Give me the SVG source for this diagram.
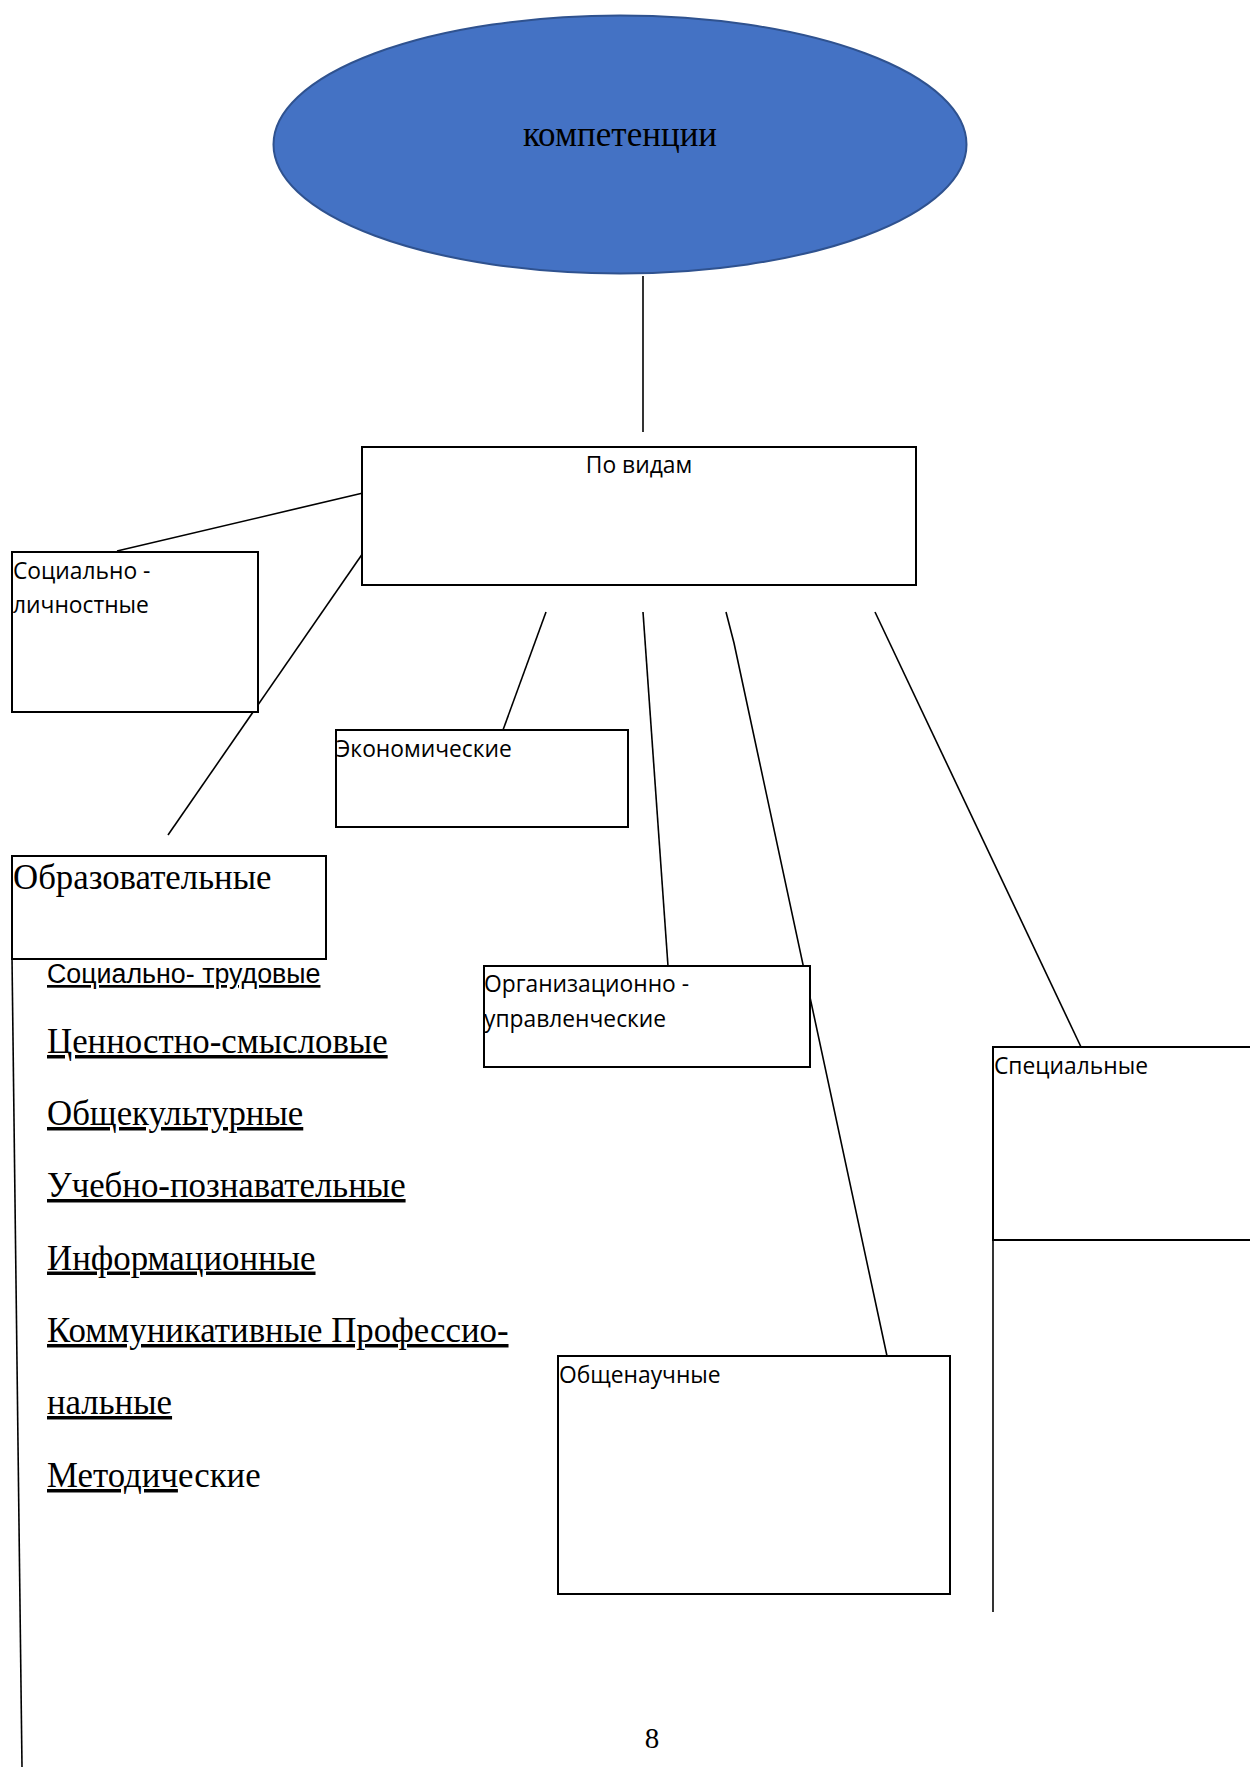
<svg xmlns="http://www.w3.org/2000/svg" width="1250" height="1767" viewBox="0 0 1250 1767">
<style>
.box{fill:#ffffff;stroke:#000000;stroke-width:2}
.lbl{font-family:"Open Sans","Noto Sans","DejaVu Sans",sans-serif;font-size:22.8px;fill:#000}
.ser{font-family:"Liberation Serif","Times New Roman",serif;fill:#000}
.big{font-size:34.8px}
.ul{text-decoration:underline}
.con{stroke:#000;stroke-width:1.6;fill:none}
</style>
<rect x="0" y="0" width="1250" height="1767" fill="#ffffff"/>
<g id="connectors">
<line class="con" x1="643" y1="276" x2="643" y2="432"/>
<line class="con" x1="363" y1="493" x2="117" y2="551"/>
<line class="con" x1="363" y1="553" x2="168" y2="835"/>
<line class="con" x1="546" y1="612" x2="503" y2="730"/>
<line class="con" x1="643" y1="612" x2="668" y2="966"/>
<polyline class="con" points="726,612 734,643 887,1356"/>
<line class="con" x1="875" y1="612" x2="1081" y2="1047"/>
<line class="con" x1="12" y1="958" x2="22" y2="1767"/>
<line class="con" x1="993" y1="1240" x2="993" y2="1612"/>
</g>
<g id="node-competencies">
<ellipse cx="620" cy="144.5" rx="346.5" ry="129" fill="#4472C4" stroke="#2F528F" stroke-width="2"/>
<text class="ser" x="620" y="146" font-size="35" text-anchor="middle">компетенции</text>
</g>
<g id="node-po-vidam">
<rect class="box" x="362" y="447" width="554" height="138"/>
<text class="lbl" x="639" y="473" text-anchor="middle">По видам</text>
</g>
<g id="node-social-personal">
<rect class="box" x="12" y="552" width="246" height="160"/>
<text class="lbl" x="13" y="579">Социально -</text>
<text class="lbl" x="13" y="613">личностные</text>
</g>
<g id="node-economic">
<rect class="box" x="336" y="730" width="292" height="97"/>
<text class="lbl" x="336" y="757">Экономические</text>
</g>
<g id="node-educational">
<rect class="box" x="12" y="856" width="314" height="103"/>
<text class="ser big" x="13" y="889">Образовательные</text>
</g>
<g id="node-educational-list">
<text x="47" y="983" font-family="Liberation Sans, Arial, sans-serif" font-size="26.8" class="ul">Социально- трудовые</text>
<text class="ser big ul" x="47" y="1053">Ценностно-смысловые</text>
<text class="ser big ul" x="47" y="1125">Общекультурные</text>
<text class="ser big ul" x="47" y="1197">Учебно-познавательные</text>
<text class="ser big ul" x="47" y="1269.5">Информационные</text>
<text class="ser big ul" x="47" y="1342">Коммуникативные Профессио-</text>
<text class="ser big ul" x="47" y="1414">нальные</text>
<text class="ser big" x="47" y="1487"><tspan class="ul">Методич</tspan>еские</text>
</g>
<g id="node-organizational">
<rect class="box" x="484" y="966" width="326" height="101"/>
<text class="lbl" x="484" y="992">Организационно -</text>
<text class="lbl" x="484" y="1027">управленческие</text>
</g>
<g id="node-special">
<rect class="box" x="993" y="1047" width="300" height="193"/>
<text class="lbl" x="994" y="1074">Специальные</text>
</g>
<g id="node-general-science">
<rect class="box" x="558" y="1356" width="392" height="238"/>
<text class="lbl" x="559" y="1383">Общенаучные</text>
</g>
<text class="ser" x="652" y="1748" font-size="29" text-anchor="middle">8</text>
</svg>
